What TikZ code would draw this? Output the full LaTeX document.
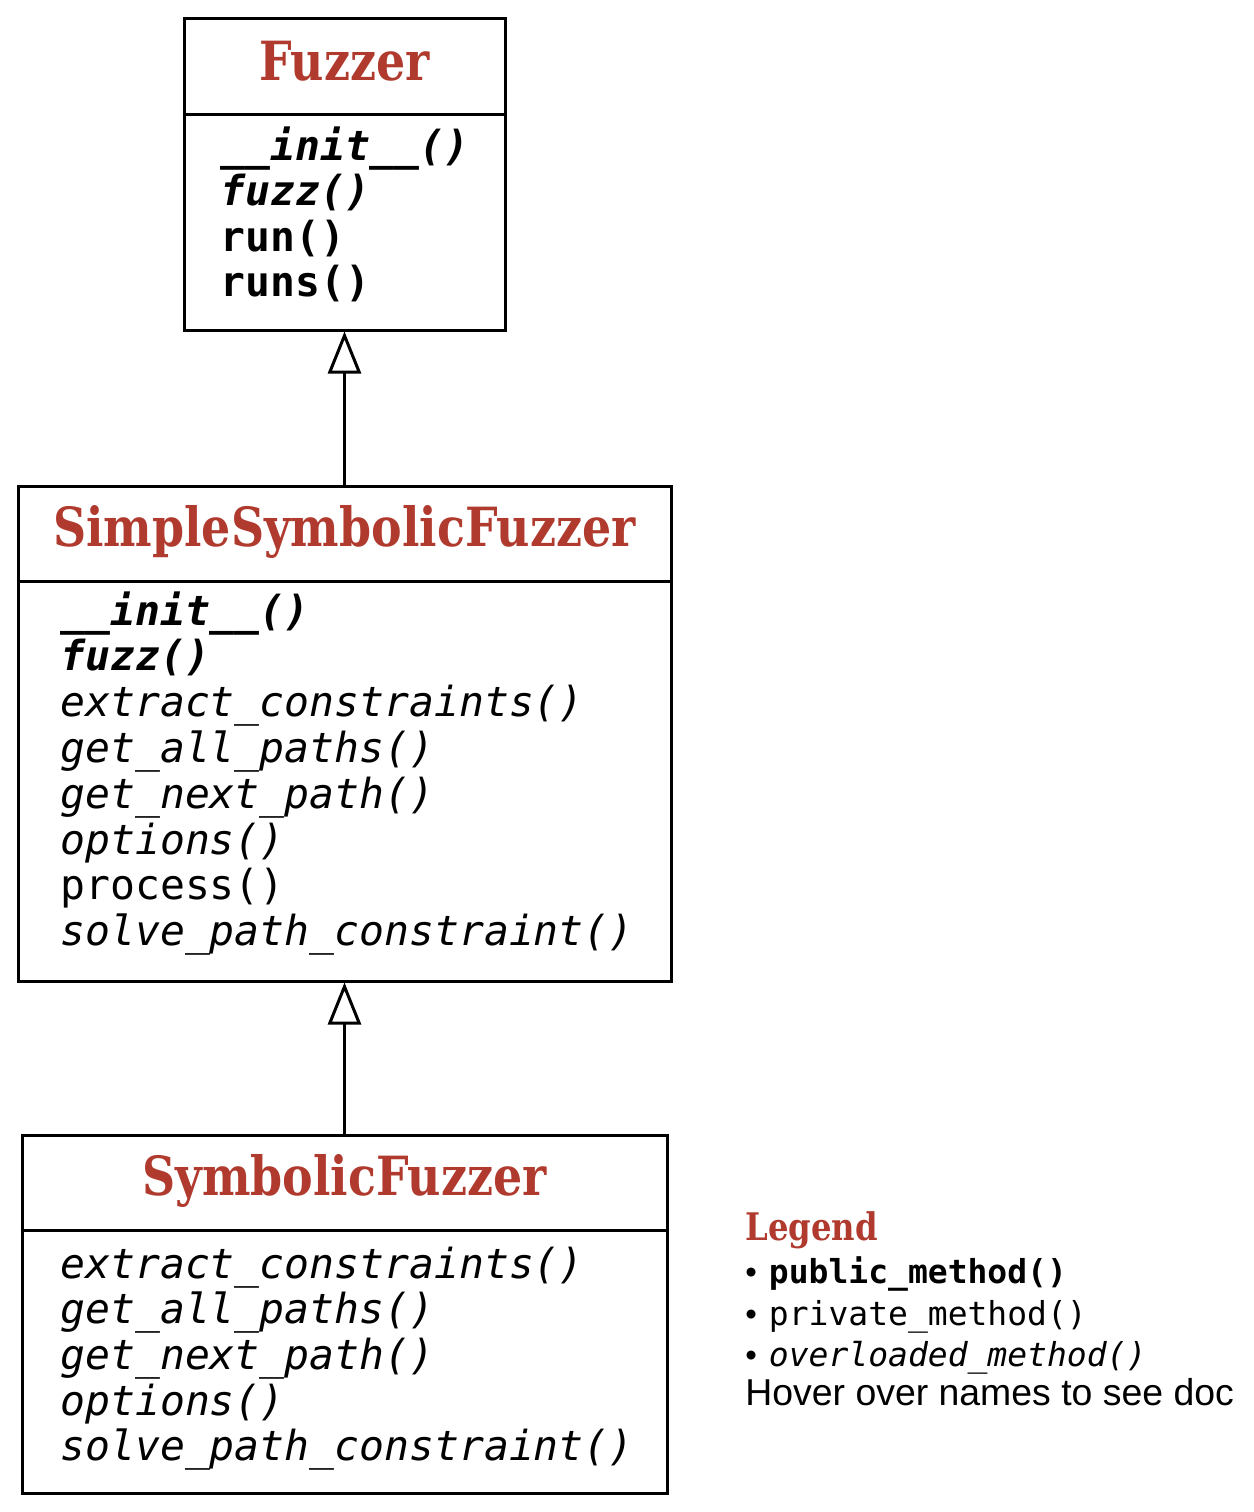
\documentclass[tikz,border=0pt]{standalone}
\usepackage{fontspec}
\setmainfont{Liberation Sans}
\setmonofont{DejaVu Sans Mono}
\newfontfamily\slabfont{DejaVu Serif}
\usetikzlibrary{arrows.meta}

\definecolor{namered}{RGB}{176,58,46}

\tikzset{
  classbox/.style={draw, line width=1.5pt, inner sep=0pt},
  classname/.style={anchor=base, inner sep=0pt, text=namered,
    font=\slabfont\fontsize{27}{27}\bfseries},
  meth/.style={anchor=base west, inner sep=0pt, font=\ttfamily\fontsize{20.7}{22}\selectfont},
  pub/.style={meth, font=\ttfamily\fontsize{20.7}{22}\bfseries},
  priv/.style={meth},
  over/.style={meth, font=\ttfamily\fontsize{20.7}{22}\itshape},
  pubover/.style={meth, font=\ttfamily\fontsize{20.7}{22}\bfseries\itshape},
  inherit/.style={line width=1.5pt, -{Triangle[open, length=21pt, width=16.5pt]}},
  legendtext/.style={anchor=base west, inner sep=0pt},
}

\newcommand{\slim}[1]{\scalebox{0.85}[1]{#1}}

\begin{document}
\begin{tikzpicture}[x=0.5pt, y=-0.5pt]
  \useasboundingbox (0,0) rectangle (1254,1512);

  % class boxes
  \node[classbox, minimum width=160.5pt, minimum height=156pt] (fuzzer) at (344.5,174) {};
  \node[classbox, minimum width=326.5pt, minimum height=247.5pt] (simple) at (344.5,733.5) {};
  \node[classbox, minimum width=322.5pt, minimum height=179pt] (symbolic) at (344.5,1314) {};

  \draw[line width=1.5pt] (fuzzer.west |- 0,114) -- (fuzzer.east |- 0,114);
  \draw[line width=1.5pt] (simple.west |- 0,581) -- (simple.east |- 0,581);
  \draw[line width=1.5pt] (symbolic.west |- 0,1230) -- (symbolic.east |- 0,1230);

  % names
  \node[classname] (fuzzername) at (344.5,80) {\slim{Fuzzer}};
  \node[classname] (simplename) at (344.5,546) {\slim{SimpleSymbolicFuzzer}};
  \node[classname] (symbolicname) at (344.5,1195) {\slim{SymbolicFuzzer}};

  % methods
  \foreach \m/\s [count=\i from 0] in {\_\_init\_\_()/pubover, fuzz()/pubover,
      run()/pub, runs()/pub}
    \node[\s] (fm\i) at (220,160+45.5*\i) {\m};

  \foreach \m/\s [count=\i from 0] in {\_\_init\_\_()/pubover, fuzz()/pubover,
      extract\_constraints()/over, get\_all\_paths()/over, get\_next\_path()/over,
      options()/over, process()/priv, solve\_path\_constraint()/over}
    \node[\s] (sm\i) at (60,625+45.8*\i) {\m};

  \foreach \m/\s [count=\i from 0] in {extract\_constraints()/over, get\_all\_paths()/over,
      get\_next\_path()/over, options()/over, solve\_path\_constraint()/over}
    \node[\s] (ym\i) at (60,1278+45.7*\i) {\m};

  % inheritance
  \draw[inherit] (simple.north) -- (fuzzer.south);
  \draw[inherit] (symbolic.north) -- (simple.south);

  % legend
  \node[legendtext, text=namered, font=\slabfont\fontsize{19}{19}\bfseries] (legend) at (745,1240) {\slim{Legend}};
  \node[legendtext, font=\fontsize{16.5}{18}\selectfont] (lg1) at (745,1283)
    {•\hspace{6pt}{\ttfamily\bfseries public\_method()}};
  \node[legendtext, font=\fontsize{16.5}{18}\selectfont] (lg2) at (745,1325)
    {•\hspace{6pt}{\ttfamily private\_method()}};
  \node[legendtext, font=\fontsize{16.5}{18}\selectfont] (lg3) at (745,1366)
    {•\hspace{6pt}{\ttfamily\itshape overloaded\_method()}};
  \node[legendtext, font=\fontsize{18.7}{20}\selectfont] (hover) at (745,1405)
    {Hover over names to see doc};
\end{tikzpicture}
\end{document}
